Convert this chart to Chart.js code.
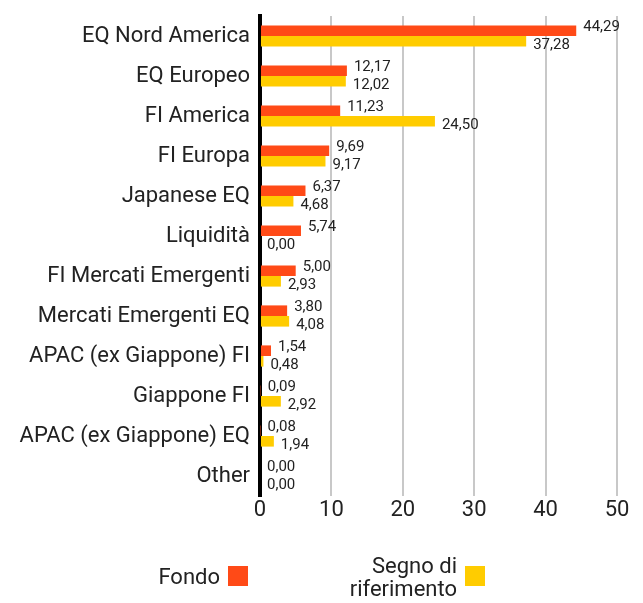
<!DOCTYPE html>
<html><head><meta charset="utf-8">
<script src="https://cdn.jsdelivr.net/npm/chart.js@4/dist/chart.umd.min.js"></script>
<style>html,body{margin:0;padding:0;background:#fff}#wrap{width:643px;height:603px;position:relative}</style>
</head><body><div id="wrap"><canvas id="c" width="643" height="603"></canvas></div>
<script>
const categories = ["EQ Nord America","EQ Europeo","FI America","FI Europa","Japanese EQ","Liquidità","FI Mercati Emergenti","Mercati Emergenti EQ","APAC (ex Giappone) FI","Giappone FI","APAC (ex Giappone) EQ","Other"];
const fondo = [44.29,12.17,11.23,9.69,6.37,5.74,5.00,3.80,1.54,0.09,0.08,0.00];
const segno = [37.28,12.02,24.50,9.17,4.68,0.00,2.93,4.08,0.48,2.92,1.94,0.00];
const xTicks = [0,10,20,30,40,50];
const seriesNames = ["Fondo", ["Segno di","riferimento"]];
const FONT = "Roboto";
const fmt = v => v.toFixed(2).replace('.', ',');

const valueLabels = {
  id: 'valueLabels',
  afterDatasetsDraw(chart) {
    const ctx = chart.ctx;
    ctx.save();
    ctx.font = '15px ' + FONT;
    ctx.fillStyle = '#222';
    ctx.textAlign = 'left';
    ctx.textBaseline = 'middle';
    chart.data.datasets.forEach((ds, di) => {
      chart.getDatasetMeta(di).data.forEach((bar, i) => {
        const dy = di === 0 ? -3 : 4;
        ctx.fillText(fmt(ds.data[i]), bar.x + 7, bar.y + dy);
      });
    });
    ctx.restore();
  }
};

const customLegend = {
  id: 'customLegend',
  afterDraw(chart) {
    const ctx = chart.ctx;
    ctx.save();
    ctx.font = '22px ' + FONT;
    ctx.textAlign = 'right';
    ctx.textBaseline = 'middle';
    const items = [{x: 228, names: seriesNames[0]}, {x: 465, names: seriesNames[1]}];
    chart.data.datasets.forEach((ds, di) => {
      const it = items[di];
      ctx.fillStyle = ds.backgroundColor;
      ctx.fillRect(it.x, 566, 20, 20);
      ctx.fillStyle = '#222';
      const lines = Array.isArray(it.names) ? it.names : [it.names];
      if (lines.length === 1) {
        ctx.fillText(lines[0], it.x - 8, 578);
      } else {
        ctx.fillText(lines[0], it.x - 8, 567);
        ctx.fillText(lines[1], it.x - 8, 590);
      }
    });
    ctx.restore();
  }
};

new Chart(document.getElementById('c'), {
  type: 'bar',
  data: {
    labels: categories,
    datasets: [
      {label: 'Fondo', data: fondo, backgroundColor: '#FF4A17'},
      {label: 'Segno di riferimento', data: segno, backgroundColor: '#FFCC00'}
    ]
  },
  options: {
    indexAxis: 'y',
    responsive: false,
    animation: false,
    devicePixelRatio: 1,
    categoryPercentage: 0.53,
    barPercentage: 1,
    layout: {padding: {left: 0, right: 26, top: 16, bottom: 77}},
    plugins: {legend: {display: false}, tooltip: {enabled: false}},
    scales: {
      x: {
        min: 0, max: 50,
        afterBuildTicks: s => { s.ticks = xTicks.map(v => ({value: v})); },
        afterFit: s => { s.height = 30; s.paddingLeft = 0; s.paddingRight = 0; },
        grid: {color: '#c8c8c8', lineWidth: 2, drawTicks: false},
        border: {display: false},
        ticks: {font: {family: FONT, size: 22}, color: '#222', padding: 1}
      },
      y: {
        afterFit: s => { s.width = 260; s.paddingTop = 0; s.paddingBottom = 0; },
        grid: {display: false, drawTicks: false},
        border: {display: true, color: '#000', width: 4},
        ticks: {font: {family: FONT, size: 22}, color: '#222', padding: 10}
      }
    }
  },
  plugins: [valueLabels, customLegend]
});
</script></body></html>
